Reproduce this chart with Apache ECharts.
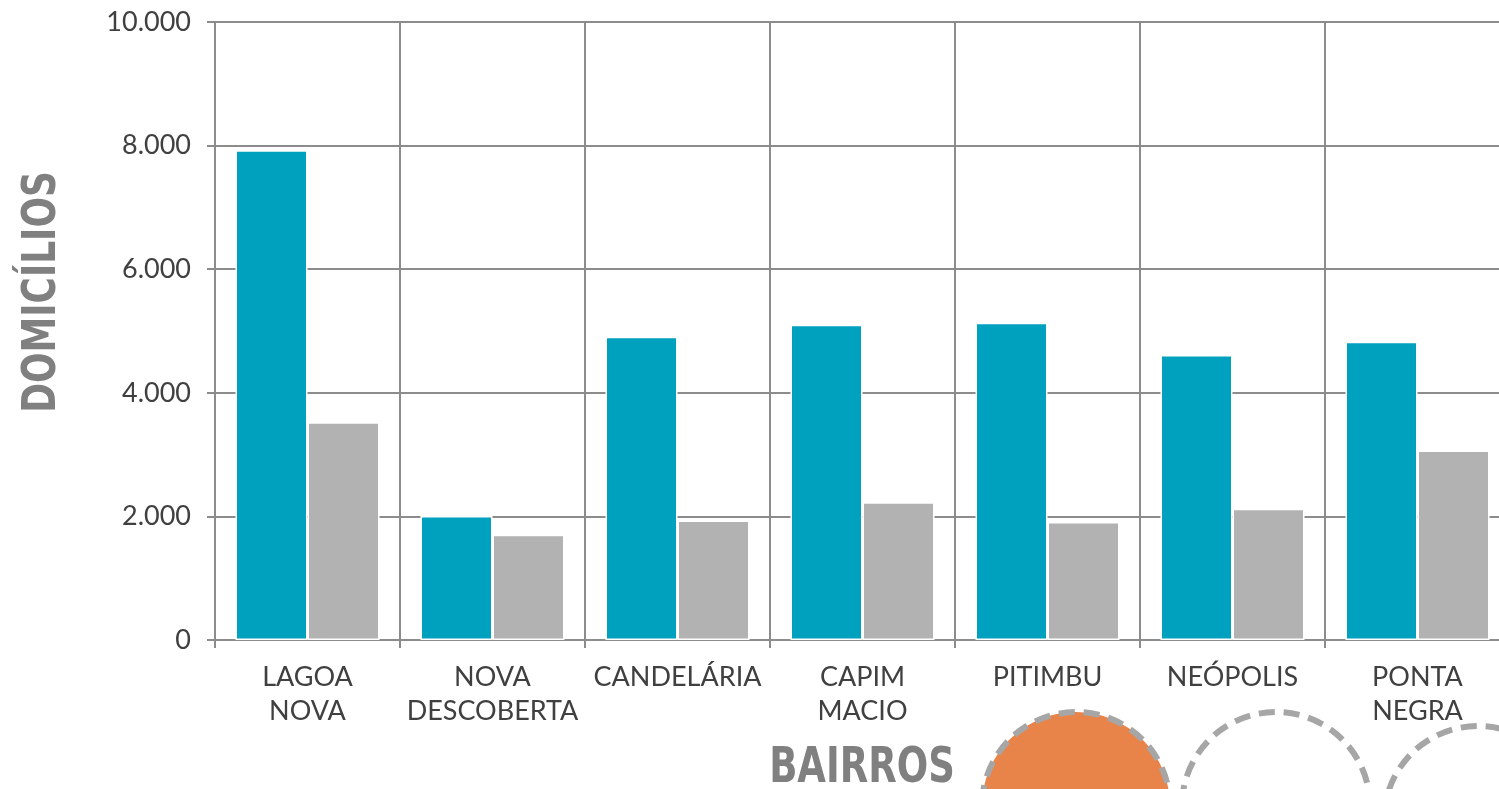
<!DOCTYPE html>
<html>
<head>
<meta charset="utf-8">
<script src="https://cdn.jsdelivr.net/npm/echarts@6/dist/echarts.min.js"></script>
<style>
  html, body { margin: 0; padding: 0; background: #fff; }
  #chart { width: 1499px; height: 789px; }
</style>
</head>
<body>
<div id="chart"></div>
<script>
// bairros e domicílios
const bairros = ['LAGOA\nNOVA', 'NOVA\nDESCOBERTA', 'CANDELÁRIA', 'CAPIM\nMACIO', 'PITIMBU', 'NEÓPOLIS', 'PONTA\nNEGRA'];
const serieAzul = [7925, 2005, 4905, 5100, 5135, 4610, 4825];
const serieCinza = [3525, 1705, 1935, 2230, 1910, 2125, 3065];
const yTicks = { min: 0, max: 10000, interval: 2000 };
const tituloY = 'DOMICÍLIOS';
const tituloX = 'BAIRROS';

const chart = echarts.init(document.getElementById('chart'));

const gridColor = '#8c8c8c';
const fontFamily = 'Lato, "Open Sans", sans-serif';
const titleFont = '"DejaVu Sans", sans-serif';

const option = {
  animation: false,
  grid: {
    left: 215,
    top: 22,
    width: 1295,
    height: 618,
    containLabel: false,
    outerBoundsMode: 'none'
  },
  xAxis: {
    type: 'category',
    data: bairros,
    axisLine: { lineStyle: { color: gridColor, width: 2 } },
    axisTick: { show: true, length: 8, lineStyle: { color: gridColor, width: 2 } },
    splitLine: { show: true, lineStyle: { color: gridColor, width: 2 } },
    axisLabel: {
      margin: 20,
      fontFamily: fontFamily,
      fontSize: 27,
      lineHeight: 34,
      color: '#404040',
      interval: 0
    }
  },
  yAxis: {
    type: 'value',
    min: yTicks.min,
    max: yTicks.max,
    interval: yTicks.interval,
    axisLine: { show: true, lineStyle: { color: gridColor, width: 2 } },
    axisTick: { show: true, length: 8, lineStyle: { color: gridColor, width: 2 } },
    splitLine: { show: true, lineStyle: { color: gridColor, width: 2 } },
    axisLabel: {
      margin: 24,
      fontFamily: fontFamily,
      fontSize: 27,
      color: '#404040',
      formatter: (v) => v.toLocaleString('de-DE')
    }
  },
  series: [
    {
      type: 'bar',
      data: serieAzul,
      barWidth: 72,
      barGap: '0%',
      itemStyle: { color: '#00a1bf', borderColor: '#fff', borderWidth: 1.5 }
    },
    {
      type: 'bar',
      data: serieCinza,
      barWidth: 72,
      itemStyle: { color: '#b2b2b2', borderColor: '#fff', borderWidth: 1.5 }
    }
  ],
  graphic: [
    // títulos dos eixos (condensados)
    {
      type: 'text',
      x: 43, y: 292,
      rotation: Math.PI / 2,
      scaleX: 0.78,
      style: {
        text: tituloY, fontFamily: titleFont, fontWeight: 'bold', fontSize: 46,
        fill: '#808080', align: 'center', verticalAlign: 'middle'
      }
    },
    {
      type: 'text',
      x: 862, y: 769,
      scaleX: 0.74,
      style: {
        text: tituloX, fontFamily: titleFont, fontWeight: 'bold', fontSize: 50,
        fill: '#808080', align: 'center', verticalAlign: 'middle'
      }
    },
    {
      type: 'circle',
      shape: { cx: 1076, cy: 806, r: 94 },
      style: { fill: '#e8844a', stroke: '#a6a6a6', lineWidth: 6, lineDash: [16, 9] }
    },
    {
      type: 'circle',
      shape: { cx: 1276, cy: 806, r: 94 },
      style: { fill: 'none', stroke: '#a6a6a6', lineWidth: 6, lineDash: [16, 9] }
    },
    {
      type: 'circle',
      shape: { cx: 1478, cy: 820, r: 94 },
      style: { fill: 'none', stroke: '#a6a6a6', lineWidth: 6, lineDash: [16, 9] }
    }
  ]
};

chart.setOption(option);
</script>
</body>
</html>
